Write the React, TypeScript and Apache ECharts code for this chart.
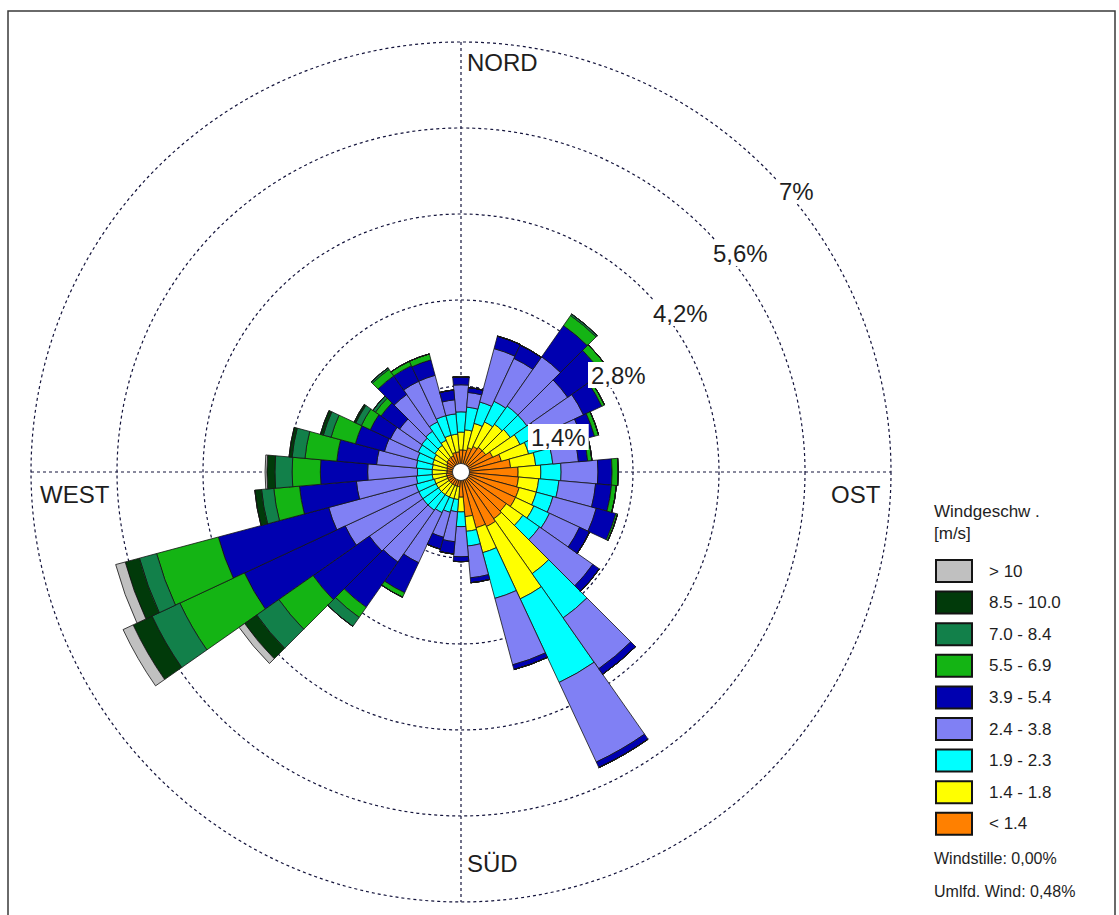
import React, { useEffect, useRef } from 'react';
import * as echarts from 'echarts';

// Wind direction sectors (degrees, clockwise from north)
const directions = [
  '0', '10', '20', '30', '40', '50', '60', '70', '80', '90', '100', '110',
  '120', '130', '140', '150', '160', '170', '180', '190', '200', '210', '220', '230',
  '240', '250', '260', '270', '280', '290', '300', '310', '320', '330', '340', '350',
];

// Frequencies in % per speed class (one value per direction sector)
const below14 = [
  0.36, 0.36, 0.41, 0.46, 0.49, 0.49, 0.57, 0.68, 0.81, 0.93, 0.94, 0.98,
  0.98, 0.90, 0.93, 0.98, 0.94, 0.73, 0.41, 0.24, 0.24, 0.24, 0.24, 0.24,
  0.24, 0.24, 0.24, 0.23, 0.23, 0.24, 0.26, 0.28, 0.29, 0.29, 0.33, 0.33,
];
const s14to18 = [
  0.29, 0.33, 0.41, 0.44, 0.46, 0.49, 0.49, 0.46, 0.41, 0.37, 0.33, 0.29,
  0.33, 0.33, 1.09, 1.30, 0.42, 0.24, 0.24, 0.21, 0.21, 0.21, 0.21, 0.21,
  0.21, 0.21, 0.23, 0.24, 0.24, 0.24, 0.23, 0.24, 0.24, 0.28, 0.29, 0.29,
];
const s19to23 = [
  0.33, 0.37, 0.36, 0.37, 0.36, 0.33, 0.33, 0.33, 0.28, 0.33, 0.33, 0.28,
  0.28, 0.33, 0.88, 1.50, 0.77, 0.24, 0.24, 0.20, 0.23, 0.28, 0.31, 0.31,
  0.31, 0.31, 0.26, 0.24, 0.26, 0.26, 0.28, 0.26, 0.28, 0.33, 0.33, 0.33,
];
const s24to38 = [
  0.44, 0.24, 0.90, 0.77, 0.98, 0.81, 0.81, 0.57, 0.42, 0.60, 0.60, 0.73,
  0.54, 1.06, 1.01, 1.43, 1.12, 0.52, 0.49, 0.49, 0.42, 0.90, 1.03, 1.06,
  1.32, 1.47, 0.98, 0.81, 0.65, 0.55, 0.50, 0.44, 0.73, 0.73, 0.68, 0.23,
];
const s39to54 = [
  0.13, 0.08, 0.21, 0.24, 0.62, 0.68, 0.33, 0.21, 0.15, 0.23, 0.26, 0.33,
  0.18, 0.13, 0.11, 0.10, 0.08, 0.08, 0.08, 0.20, 0.20, 0.54, 0.90, 1.12,
  1.81, 1.86, 0.93, 0.77, 0.65, 0.49, 0.36, 0.37, 0.37, 0.28, 0.26, 0.16,
];
const s55to69 = [
  0, 0, 0, 0, 0.20, 0.13, 0.05, 0.07, 0.07, 0.10, 0.08, 0.03,
  0, 0, 0, 0, 0, 0, 0, 0, 0, 0.08, 0.20, 0.68,
  1.16, 1.04, 0.42, 0.46, 0.52, 0.41, 0.16, 0.11, 0.13, 0.08, 0.10, 0,
];
const s70to84 = [
  0, 0, 0, 0, 0.03, 0, 0, 0, 0, 0, 0, 0,
  0, 0, 0, 0, 0, 0, 0, 0, 0, 0, 0.18, 0.44,
  0.50, 0.29, 0.20, 0.28, 0.21, 0.13, 0.10, 0.05, 0.03, 0, 0, 0,
];
const s85to100 = [
  0, 0, 0, 0, 0, 0, 0, 0, 0, 0, 0, 0,
  0, 0, 0, 0, 0, 0, 0, 0, 0, 0, 0, 0.24,
  0.34, 0.24, 0.11, 0.13, 0.05, 0.05, 0.03, 0, 0, 0, 0, 0,
];
const above10 = [
  0, 0, 0, 0, 0, 0, 0, 0, 0, 0, 0, 0,
  0, 0, 0, 0, 0, 0, 0, 0, 0, 0, 0, 0.11,
  0.18, 0.16, 0, 0.03, 0, 0, 0, 0, 0, 0, 0, 0,
];

const speedClasses = ['< 1.4', '1.4 - 1.8', '1.9 - 2.3', '2.4 - 3.8', '3.9 - 5.4', '5.5 - 6.9', '7.0 - 8.4', '8.5 - 10.0', '> 10'];
const speedColors = ['#ff8000', '#ffff00', '#00ffff', '#8080f4', '#0000b0', '#14b414', '#12804a', '#013a0a', '#c0c0c0'];
const classValues = [below14, s14to18, s19to23, s24to38, s39to54, s55to69, s70to84, s85to100, above10];

const ringLabels = ['1,4%', '2,8%', '4,2%', '5,6%', '7%'];
const compassLabels = ['NORD', 'OST', 'SÜD', 'WEST'];
const legendTitle = ['Windgeschw .', '[m/s]'];
const calmText = 'Windstille: 0,00%';
const variableText = 'Umlfd. Wind: 0,48%';

const FONT = '"Liberation Sans", Arial, sans-serif';

export default function App() {
  const ref = useRef<HTMLDivElement>(null);

  useEffect(() => {
    if (!ref.current) return;
    const chart = echarts.init(ref.current, null, { renderer: 'svg' });
    const cx = 461;
    const cy = 472;
    const R = 430;
    const gridColor = '#14143c';

    const ringPos = [
      [528, 424], [588, 362], [650, 300], [710, 240], [776, 178],
    ];
    const compassPos: Record<string, [number, number]> = {
      NORD: [467, 62],
      OST: [831, 494],
      'SÜD': [467, 863],
      WEST: [40, 494],
    };

    const textStyle = (size: number) => ({ fontSize: size, fontFamily: FONT, fill: '#1e1e1e' });

    const graphics: any[] = [
      {
        type: 'rect', silent: true, z: 0,
        shape: { x: 8, y: 11, width: 1107, height: 920 },
        style: { fill: 'none', stroke: '#3a3a3a', lineWidth: 1.5 },
      },
      {
        type: 'line', silent: true, z: 0,
        shape: { x1: cx, y1: cy - R, x2: cx, y2: cy + R },
        style: { stroke: gridColor, lineWidth: 1.2, lineDash: [3, 3] },
      },
      {
        type: 'line', silent: true, z: 0,
        shape: { x1: cx - R, y1: cy, x2: cx + R, y2: cy },
        style: { stroke: gridColor, lineWidth: 1.2, lineDash: [3, 3] },
      },
      {
        type: 'circle', silent: true, z: 50,
        shape: { cx, cy, r: 8.5 },
        style: { fill: '#ffffff', stroke: '#333', lineWidth: 1 },
      },
    ];

    compassLabels.forEach((t) => {
      const [x, y] = compassPos[t];
      graphics.push({
        type: 'text', silent: true, z: 40, x, y,
        style: { ...textStyle(24), text: t, align: 'left', verticalAlign: 'middle' },
      });
    });

    ringLabels.forEach((t, i) => {
      graphics.push({
        type: 'text', silent: true, z: 60, x: ringPos[i][0], y: ringPos[i][1],
        style: {
          ...textStyle(24), text: t, align: 'left', verticalAlign: 'top',
          backgroundColor: '#ffffff', padding: [1, 3, 1, 3],
        },
      });
    });

    graphics.push(
      {
        type: 'text', silent: true, z: 40, x: 934, y: 511,
        style: { ...textStyle(17), text: legendTitle[0], verticalAlign: 'middle' },
      },
      {
        type: 'text', silent: true, z: 40, x: 934, y: 533,
        style: { ...textStyle(17), text: legendTitle[1], verticalAlign: 'middle' },
      },
      {
        type: 'text', silent: true, z: 40, x: 934, y: 858,
        style: { ...textStyle(16), text: calmText, verticalAlign: 'middle' },
      },
      {
        type: 'text', silent: true, z: 40, x: 934, y: 891,
        style: { ...textStyle(16), text: variableText, verticalAlign: 'middle' },
      },
    );

    const series = speedClasses.map((name, i) => ({
      type: 'bar',
      name,
      coordinateSystem: 'polar',
      stack: 'wind',
      data: classValues[i],
      barCategoryGap: '0%',
      itemStyle: { color: speedColors[i], borderColor: '#141414', borderWidth: 0.8 },
      emphasis: { disabled: true },
      z: 2,
    }));

    chart.setOption({
      animation: false,
      backgroundColor: '#ffffff',
      polar: { center: [cx, cy], radius: [0, R] },
      angleAxis: {
        type: 'category',
        data: directions,
        startAngle: 95,
        clockwise: true,
        axisLine: { show: false },
        axisTick: { show: false },
        axisLabel: { show: false },
        splitLine: { show: false },
      },
      radiusAxis: {
        type: 'value',
        min: 0,
        max: 7,
        interval: 1.4,
        axisLine: { show: false },
        axisTick: { show: false },
        axisLabel: { show: false },
        splitLine: { show: true, lineStyle: { color: gridColor, width: 1.2, type: [3, 3] } },
      },
      legend: {
        data: speedClasses.slice().reverse(),
        orient: 'vertical',
        left: 935,
        top: 559,
        padding: 0,
        itemWidth: 36,
        itemHeight: 22,
        itemGap: 7.6,
        icon: 'rect',
        selectedMode: false,
        textStyle: {
          fontSize: 17, fontFamily: FONT, color: '#1e1e1e',
          padding: [0, 0, 0, 12],
        },
      },
      graphic: graphics,
      series,
    });

    return () => chart.dispose();
  }, []);

  return (
    <div
      ref={ref}
      style={{ position: 'fixed', left: 0, top: 0, width: 1119, height: 915, background: '#fff' }}
    />
  );
}
